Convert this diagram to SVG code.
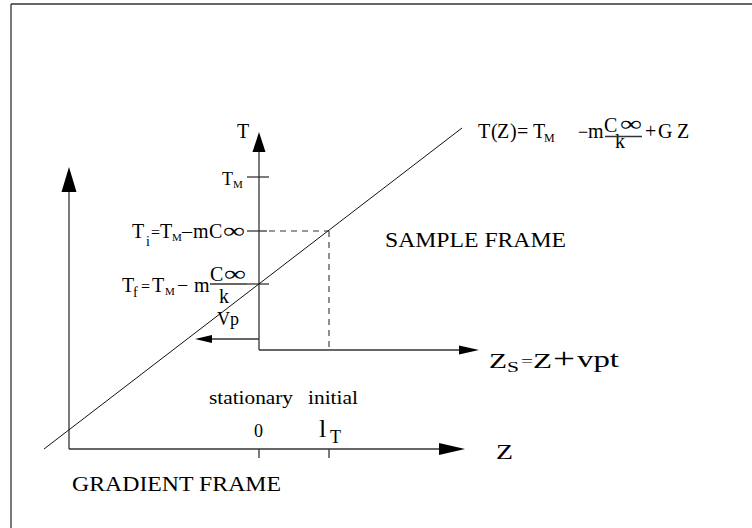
<svg xmlns="http://www.w3.org/2000/svg" width="752" height="528" viewBox="0 0 752 528">
<style>
.ax{stroke:#333;stroke-width:1.3;fill:none}
.thin{stroke:#111;stroke-width:1;fill:none}
.dash{stroke:#333;stroke-width:1.1;fill:none;stroke-dasharray:6 5}
.hd{fill:#000;stroke:none}
text{font-family:"Liberation Serif","Times New Roman",serif;fill:#000}
.inf{font-size:22px}
</style>
<rect width="752" height="528" fill="#fff"/>
<g id="frame">
<line class="ax" x1="11" y1="4" x2="11" y2="528" stroke-width="1.6"/>
<line class="ax" x1="11" y1="4" x2="752" y2="4" stroke-width="1.6"/>
</g>
<g id="connectors">
<line class="ax" x1="69" y1="449" x2="69" y2="190"/>
<polygon class="hd" points="69,167 61.5,192 76.5,192"/>
<line class="ax" x1="69" y1="449" x2="441" y2="449"/>
<polygon class="hd" points="465,449 439,443 439,455"/>
<line class="ax" x1="259" y1="449" x2="259" y2="458"/>
<line class="ax" x1="329" y1="449" x2="329" y2="458"/>
<line class="ax" x1="259" y1="350" x2="259" y2="150"/>
<polygon class="hd" points="259,132 252.5,152 265.5,152"/>
<line class="ax" x1="259" y1="350" x2="461" y2="350"/>
<polygon class="hd" points="479,350 459,345.5 459,354.5"/>
<line class="ax" x1="259" y1="339" x2="210" y2="339"/>
<polygon class="hd" points="195,339 212,335 212,343"/>
<line class="ax" x1="247" y1="177" x2="269" y2="177"/>
<line class="ax" x1="247" y1="231" x2="267" y2="231"/>
<line class="dash" x1="269" y1="231" x2="329" y2="231"/>
<line class="dash" x1="329" y1="231" x2="329" y2="350"/>
<line class="ax" x1="247" y1="284" x2="269" y2="284"/>
<line class="thin" x1="44" y1="449" x2="462" y2="128"/>
</g>
<g id="label-T">
<text x="237" y="138" font-size="20">T</text>
</g>
<g id="label-TM">
<text font-size="18"><tspan x="222" y="185">T</tspan><tspan x="233" y="188" font-size="11">M</tspan></text>
</g>
<g id="label-Ti">
<text font-size="20"><tspan x="132" y="238">T</tspan><tspan x="146" y="246" font-size="14">i</tspan><tspan x="151" y="238" font-size="16">=</tspan><tspan x="160" y="238">T</tspan><tspan x="172" y="241" font-size="11">M</tspan><tspan x="182" y="238">–</tspan><tspan x="193" y="238">m</tspan><tspan x="209" y="238">C</tspan></text>
<text class="inf" x="223" y="238" textLength="22" lengthAdjust="spacingAndGlyphs">∞</text>
</g>
<g id="label-Tf">
<text font-size="20"><tspan x="122" y="292">T</tspan><tspan x="133" y="297" font-size="14">f</tspan><tspan x="141" y="292" font-size="16">=</tspan><tspan x="152" y="292">T</tspan><tspan x="165" y="295" font-size="11">M</tspan><tspan x="177" y="292">−</tspan><tspan x="194" y="292">m</tspan><tspan x="210" y="281">C</tspan><tspan x="219" y="303">k</tspan></text>
<text class="inf" x="224" y="281" textLength="22" lengthAdjust="spacingAndGlyphs">∞</text>
<line class="ax" x1="210" y1="284" x2="247" y2="284"/>
</g>
<g id="label-Vp">
<text x="217" y="325" font-size="18">Vp</text>
</g>
<g id="label-formula">
<text font-size="20"><tspan x="478" y="138">T</tspan><tspan x="491" y="138">(</tspan><tspan x="497" y="138">Z</tspan><tspan x="510" y="138">)</tspan><tspan x="517" y="138">=</tspan><tspan x="533" y="138">T</tspan><tspan x="544" y="142" font-size="12">M</tspan><tspan x="578" y="138" font-size="18">−</tspan><tspan x="588" y="138">m</tspan><tspan x="604" y="132">C</tspan><tspan x="615" y="148">k</tspan><tspan x="645" y="138">+</tspan><tspan x="658" y="138">G</tspan><tspan x="677" y="138">Z</tspan></text>
<text class="inf" x="620" y="131" textLength="22" lengthAdjust="spacingAndGlyphs">∞</text>
<line class="ax" x1="605" y1="136.5" x2="642" y2="136.5"/>
</g>
<g id="label-sample">
<text x="385" y="247" font-size="21" textLength="181" lengthAdjust="spacingAndGlyphs">SAMPLE FRAME</text>
</g>
<g id="label-zs">
<text x="489" y="368" font-size="20" textLength="18" lengthAdjust="spacingAndGlyphs">Z</text>
<text x="507" y="372" font-size="14" textLength="12" lengthAdjust="spacingAndGlyphs">S</text>
<text x="521" y="366" font-size="14" textLength="12" lengthAdjust="spacingAndGlyphs">=</text>
<text x="533" y="368" font-size="20" textLength="19" lengthAdjust="spacingAndGlyphs">Z</text>
<text x="553" y="368" font-size="30" textLength="22" lengthAdjust="spacingAndGlyphs">+</text>
<text x="577" y="367" font-size="24" textLength="42" lengthAdjust="spacingAndGlyphs">vpt</text>
</g>
<g id="label-stationary">
<text x="209" y="404" font-size="18" textLength="84" lengthAdjust="spacingAndGlyphs">stationary</text>
<text x="308" y="404" font-size="18" textLength="50" lengthAdjust="spacingAndGlyphs">initial</text>
</g>
<g id="label-0">
<text x="254" y="437" font-size="18">0</text>
</g>
<g id="label-lT">
<text x="319" y="437" font-size="26">l</text>
<text x="330" y="443" font-size="18">T</text>
</g>
<g id="label-Z">
<text x="496" y="459" font-size="20" textLength="17" lengthAdjust="spacingAndGlyphs">Z</text>
</g>
<g id="label-gradient">
<text x="72" y="491" font-size="22" textLength="209" lengthAdjust="spacingAndGlyphs">GRADIENT FRAME</text>
</g>
</svg>
